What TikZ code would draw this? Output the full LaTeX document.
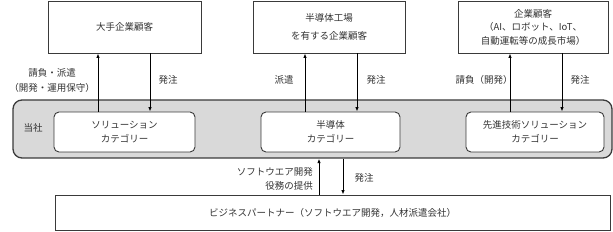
\documentclass[tikz,border=0pt]{standalone}
\usepackage{fontspec}
\setmainfont{Noto Sans CJK JP}
\usetikzlibrary{arrows.meta}
\definecolor{lc}{HTML}{3A3A3A}
\definecolor{tc}{HTML}{333333}
\definecolor{bandfill}{HTML}{D9D9D9}
\begin{document}
\begin{tikzpicture}[x=1pt,y=-1pt,
  font=\fontsize{9.5}{14}\selectfont, text=tc,
  topbox/.style={draw=lc, line width=0.9pt, fill=white, minimum height=52pt, inner sep=0pt, align=center},
  catbox/.style={draw=lc, line width=0.9pt, fill=white, rounded corners=5pt, minimum height=40pt, inner sep=0pt, align=center},
  arr/.style={draw=black, line width=0.9pt, -{Latex[length=4.5pt,width=3.5pt]}},
  lbl/.style={inner sep=0pt, align=center}]
\useasboundingbox (0,0) rectangle (613,232);
% band
\node[draw=lc, line width=1.3pt, fill=bandfill, rounded corners=9pt, minimum width=599pt, minimum height=58pt, inner sep=0pt] (band) at (312.5,129) {};
\node[lbl] (tosha) at (33,128) {当社};
% top boxes
\node[topbox, minimum width=153pt] (t1) at (124.5,27) {大手企業顧客};
\node[topbox, minimum width=152pt, font=\fontsize{9.5}{18}\selectfont] (t2) at (329,27) {半導体工場\\を有する企業顧客};
\node[topbox, minimum width=150pt, font=\fontsize{9.5}{13.5}\selectfont] (t3) at (533,27) {企業顧客\\（AI、ロボット、IoT、\\自動運転等の成長市場）};
% category boxes
\node[catbox, minimum width=141pt] (c1) at (124.5,132) {ソリューション\\カテゴリー};
\node[catbox, minimum width=139pt] (c2) at (330.5,132) {半導体\\カテゴリー};
\node[catbox, minimum width=138pt] (c3) at (535,132) {先進技術ソリューション\\カテゴリー};
% bottom
\node[draw=lc, line width=0.9pt, fill=white, minimum width=555pt, minimum height=35pt, inner sep=0pt] (bp) at (332.5,212.5) {ビジネスパートナー（ソフトウエア開発，人材派遣会社）};
% arrow x positions
\coordinate (u1) at (98,0);
\coordinate (d1) at (150,0);
\coordinate (u2) at (305,0);
\coordinate (d2) at (357,0);
\coordinate (u3) at (510,0);
\coordinate (d3) at (562,0);
\coordinate (u4) at (319,0);
\coordinate (d4) at (343,0);
\draw[arr] (c1.north -| u1) -- (t1.south -| u1);
\draw[arr] (t1.south -| d1) -- (c1.north -| d1);
\draw[arr] (c2.north -| u2) -- (t2.south -| u2);
\draw[arr] (t2.south -| d2) -- (c2.north -| d2);
\draw[arr] (c3.north -| u3) -- (t3.south -| u3);
\draw[arr] (t3.south -| d3) -- (c3.north -| d3);
\draw[arr] (bp.north -| u4) -- (band.south -| u4);
\draw[arr] (band.south -| d4) -- (bp.north -| d4);
% labels
\node[lbl, font=\fontsize{9.5}{15}\selectfont] (l1) at (52,80) {請負・派遣\\（開発・運用保守）};
\node[lbl] (l2) at (168,80) {発注};
\node[lbl] (l3) at (284,80) {派遣};
\node[lbl] (l4) at (376,80) {発注};
\node[lbl] (l5) at (484,80) {請負（開発）};
\node[lbl] (l6) at (580,80) {発注};
\node[lbl, align=right, anchor=east, font=\fontsize{9.5}{14}\selectfont] (l7) at (313,179) {ソフトウエア開発\\役務の提供};
\node[lbl] (l8) at (364,178) {発注};
\end{tikzpicture}
\end{document}
